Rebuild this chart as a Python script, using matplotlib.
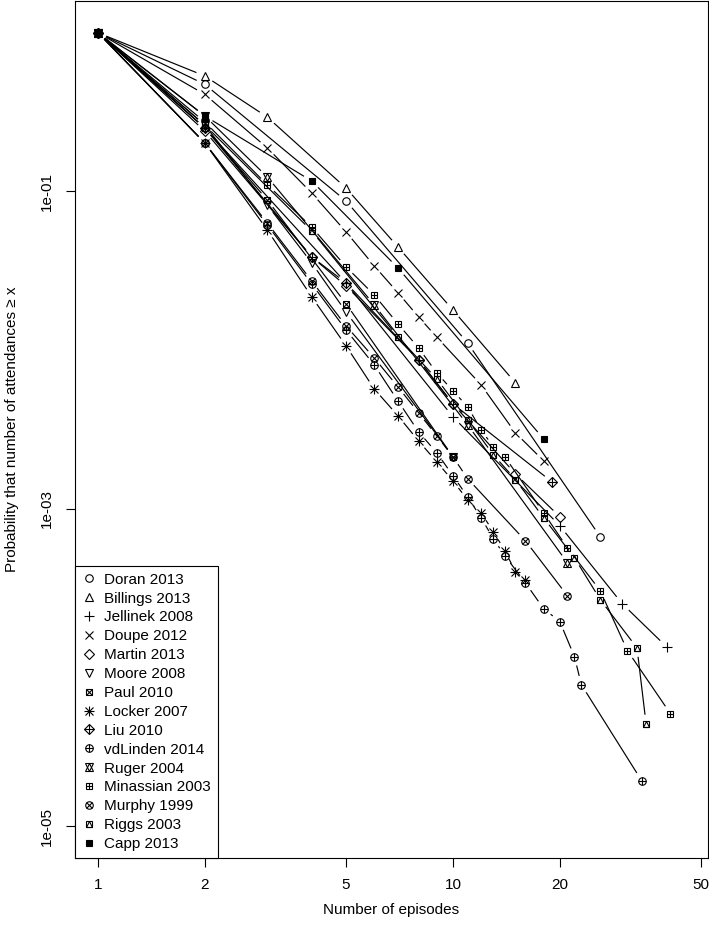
import numpy as np
import matplotlib
matplotlib.use("Agg")
import matplotlib.pyplot as plt
from matplotlib.collections import LineCollection
from matplotlib.lines import Line2D
from matplotlib.legend_handler import HandlerTuple
from matplotlib.ticker import NullLocator

plt.rcParams['font.family'] = ['Liberation Sans', 'DejaVu Sans']

# values (P(attendances >= x))
doran_x = [1, 2, 5, 11, 26]
doran_y = [1, 0.473, 0.0871, 0.0111, 0.000667]
billings_x = [1, 2, 3, 5, 7, 10, 15]
billings_y = [1, 0.534, 0.294, 0.105, 0.0447, 0.0179, 0.00622]
jellinek_x = [1, 2, 5, 10, 20, 30, 40]
jellinek_y = [1, 0.251, 0.0265, 0.0038, 0.000783, 0.000252, 0.000135]
doupe_x = [1, 2, 3, 4, 5, 6, 7, 8, 9, 12, 15, 18]
doupe_y = [1, 0.409, 0.188, 0.0978, 0.0556, 0.034, 0.023, 0.0162, 0.0121,
           0.00605, 0.00301, 0.00201]
martin_x = [1, 2, 4, 5, 8, 10, 15, 20]
martin_y = [1, 0.240, 0.0387, 0.0254, 0.00869, 0.00459, 0.00166, 0.000892]
moore_x = [1, 2, 3, 4, 5, 10]
moore_y = [1, 0.262, 0.0822, 0.0355, 0.0174, 0.00213]
paul_x = [1, 2, 3, 5, 10]
paul_y = [1, 0.251, 0.0884, 0.0196, 0.00213]
locker_x = [1, 2, 3, 4, 5, 6, 7, 8, 9, 10, 11, 12, 13, 14, 15, 16]
locker_y = [1, 0.202, 0.0572, 0.0217, 0.01064, 0.0057, 0.00386, 0.00268,
            0.00198, 0.0015, 0.00114, 0.000945, 0.000718, 0.000545,
            0.000402, 0.000358]
liu_x = [1, 2, 4, 5, 8, 10, 19]
liu_y = [1, 0.251, 0.0387, 0.0265, 0.00869, 0.00459, 0.00148]
vdlinden_x = [1, 2, 3, 4, 5, 6, 7, 8, 9, 10, 11, 12, 13, 14, 16, 18, 20,
              22, 23, 34]
vdlinden_y = [1, 0.202, 0.0615, 0.0262, 0.0134, 0.00808, 0.00479, 0.00306,
              0.00226, 0.00162, 0.00119, 0.000879, 0.000648, 0.000507,
              0.000342, 0.000235, 0.000195, 0.000117, 7.8e-5, 1.94e-5]
ruger_x = [1, 2, 3, 6, 11, 21]
ruger_y = [1, 0.299, 0.1234, 0.0193, 0.00339, 0.000458]
minassian_x = [1, 2, 3, 4, 5, 6, 7, 8, 9, 10, 11, 12, 13, 14, 18, 21, 26,
               31, 41]
minassian_y = [1, 0.274, 0.110, 0.0597, 0.0335, 0.0223, 0.01464, 0.01034,
               0.0072, 0.00554, 0.0044, 0.00315, 0.00246, 0.00213,
               0.000945, 0.000569, 0.000305, 0.000128, 5.12e-5]
murphy_x = [1, 2, 3, 4, 5, 6, 7, 8, 9, 10, 11, 16, 21]
murphy_y = [1, 0.202, 0.0633, 0.0273, 0.01422, 0.00894, 0.00587, 0.00403,
            0.00289, 0.00213, 0.00155, 0.00063, 0.000284]
riggs_x = [1, 2, 4, 7, 9, 11, 13, 15, 18, 22, 26, 33, 35]
riggs_y = [1, 0.262, 0.0564, 0.01213, 0.0066, 0.00364, 0.00219, 0.00153,
           0.000879, 0.000492, 0.000268, 0.000133, 4.43e-5]
capp_x = [1, 2, 4, 7, 18]
capp_y = [1, 0.299, 0.1164, 0.033, 0.00276]

series = [
    ("Doran 2013", doran_x, doran_y),
    ("Billings 2013", billings_x, billings_y),
    ("Jellinek 2008", jellinek_x, jellinek_y),
    ("Doupe 2012", doupe_x, doupe_y),
    ("Martin 2013", martin_x, martin_y),
    ("Moore 2008", moore_x, moore_y),
    ("Paul 2010", paul_x, paul_y),
    ("Locker 2007", locker_x, locker_y),
    ("Liu 2010", liu_x, liu_y),
    ("vdLinden 2014", vdlinden_x, vdlinden_y),
    ("Ruger 2004", ruger_x, ruger_y),
    ("Minassian 2003", minassian_x, minassian_y),
    ("Murphy 1999", murphy_x, murphy_y),
    ("Riggs 2003", riggs_x, riggs_y),
    ("Capp 2013", capp_x, capp_y),
]

# R pch 1..15 built from overlaid matplotlib markers: (marker, size, filled)
symbols = [
    [('o', 5.4, False)],
    [('^', 5.8, False)],
    [('+', 7.5, False)],
    [('x', 5.5, False)],
    [('D', 5.0, False)],
    [('v', 5.8, False)],
    [('s', 5.0, False), ('x', 5.0, False)],
    [('+', 6.8, False), ('x', 5.4, False)],
    [('D', 5.0, False), ('+', 7.0, False)],
    [('o', 5.4, False), ('+', 5.4, False)],
    [('^', 5.6, False), ('v', 5.6, False)],
    [('s', 5.0, False), ('+', 5.0, False)],
    [('o', 5.4, False), ('x', 3.8, False)],
    [('s', 5.0, False), ('^', 5.0, False)],
    [('s', 5.0, True)],
]

fig = plt.figure(figsize=(7.09, 9.33), dpi=100)
ax = fig.add_axes([74.5 / 709, 1 - 858 / 933, (708 - 74.5) / 709, 857 / 933])
ax.set_xscale('log')
ax.set_yscale('log')
ax.set_xlim(0.859, 52.3)
ax.set_ylim(10 ** -5.2, 10 ** 0.2)

GAP = 9  # pixels left open around each point, like R type="b"


def gapped(xs, ys):
    pts = ax.transData.transform(np.column_stack([xs, ys]))
    inv = ax.transData.inverted()
    segs = []
    for p0, p1 in zip(pts[:-1], pts[1:]):
        d = p1 - p0
        length = np.hypot(d[0], d[1])
        if length <= 2 * GAP:
            continue
        u = d / length
        segs.append(inv.transform(np.array([p0 + GAP * u, p1 - GAP * u])))
    return segs


handles = []
names = []
for (name, xs, ys), sym in zip(series, symbols):
    lc = LineCollection(gapped(xs, ys), colors='black', linewidths=0.85)
    ax.add_collection(lc)
    parts = []
    for m, ms, filled in sym:
        ax.plot(xs, ys, linestyle='none', marker=m, markersize=ms,
                markerfacecolor='black' if filled else 'none',
                markeredgecolor='black', markeredgewidth=0.8)
        parts.append(Line2D([], [], linestyle='none', marker=m, markersize=ms,
                            markerfacecolor='black' if filled else 'none',
                            markeredgecolor='black', markeredgewidth=0.8))
    handles.append(tuple(parts))
    names.append(name)

ax.set_xticks([1, 2, 5, 10, 20, 50])
ax.set_xticklabels(['1', '2', '5', '10', '20', '50'])
ax.set_yticks([1e-1, 1e-3, 1e-5])
ax.set_yticklabels(['1e-01', '1e-03', '1e-05'], rotation=90, va='center')
ax.xaxis.set_minor_locator(NullLocator())
ax.yaxis.set_minor_locator(NullLocator())
ax.tick_params(direction='out', length=6.5, width=0.8, labelsize=11, pad=8,
               colors='black')
for s in ax.spines.values():
    s.set_linewidth(0.8)

ax.set_xlabel('Number of episodes', fontsize=11)
ax.xaxis.set_label_coords(0.5, -0.0525)
ax.set_ylabel('Probability that number of attendances \u2265 x', fontsize=11)
ax.yaxis.set_label_coords(-0.0876, 0.5)

leg = ax.legend(handles, names, loc='lower left', bbox_to_anchor=(0, 0),
                borderaxespad=0, frameon=True, fancybox=False,
                edgecolor='black', framealpha=1, fontsize=11,
                labelspacing=0.32, handlelength=1.0, handletextpad=0.5,
                borderpad=0.45, handler_map={tuple: HandlerTuple(ndivide=1)})
leg.get_frame().set_linewidth(0.8)

fig.savefig('out.png', dpi=100)
